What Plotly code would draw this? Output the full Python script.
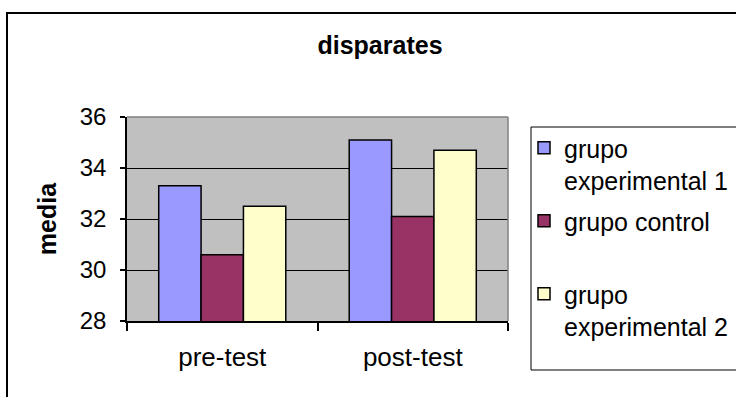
import plotly.graph_objects as go

# ---- data ----
categories = ["pre-test", "post-test"]
series_names = ["grupo<br>experimental 1", "grupo control<br>\u00a0", "grupo<br>experimental 2"]
exp1_values = [33.3, 35.1]
control_values = [30.6, 32.1]
exp2_values = [32.5, 34.7]
y_tick_values = [28, 30, 32, 34, 36]
chart_title = "disparates"
y_title = "media"

series_values = [exp1_values, control_values, exp2_values]
series_colors = ["#9999FF", "#993366", "#FFFFCC"]

# ---- geometry (pixels) ----
W, H = 736, 397
L, R, T, B = 127, 508, 117, 321


def px(x):
    return (x - L) / (R - L)


def py(y):
    return (B - y) / (B - T)


FONT = "Liberation Sans, Arial, sans-serif"

fig = go.Figure()
for i, (name, vals, col) in enumerate(zip(series_names, series_values, series_colors)):
    fig.add_trace(go.Bar(
        x=categories, y=vals, name=name,
        marker=dict(color=col, line=dict(color="black", width=1.5)),
        legendgroup=str(i),
    ))

shapes = [
    # outer chart border
    dict(type="rect", xref="paper", yref="paper", x0=px(7), x1=px(760), y0=py(420), y1=py(13),
         line=dict(color="black", width=2), layer="below"),
    # legend box
    dict(type="rect", xref="paper", yref="paper", x0=px(531), x1=px(760), y0=py(370), y1=py(127),
         line=dict(color="black", width=1)),
    # plot area top / right border (gray)
    dict(type="line", xref="paper", yref="paper", x0=0, x1=1, y0=1, y1=1,
         line=dict(color="#808080", width=1.5)),
    dict(type="line", xref="paper", yref="paper", x0=1, x1=1, y0=0, y1=1,
         line=dict(color="#808080", width=1.5)),
]

fig.update_layout(
    width=W, height=H,
    margin=dict(l=L, r=W - R, t=T, b=H - B, pad=0, autoexpand=False),
    paper_bgcolor="white",
    plot_bgcolor="#C0C0C0",
    font=dict(family=FONT, color="black", size=25),
    barmode="group",
    bargap=0.333,
    bargroupgap=0,
    title=dict(text="<b>%s</b>" % chart_title, x=380 / W, xanchor="center",
               y=1 - 45 / H, yanchor="middle", yref="container",
               font=dict(size=25, family=FONT, color="black")),
    xaxis=dict(
        showline=True, linecolor="black", linewidth=1.5,
        ticks="outside", tickson="boundaries", ticklen=8, tickcolor="black", tickwidth=1.5,
        tickfont=dict(size=26), showgrid=False, ticklabelstandoff=12,
    ),
    yaxis=dict(
        range=[28, 36], tickvals=y_tick_values,
        showline=True, linecolor="black", linewidth=1.5,
        ticks="outside", ticklen=5, tickcolor="black", tickwidth=1.5,
        showgrid=True, gridcolor="black", gridwidth=1,
        tickfont=dict(size=24), ticklabelstandoff=9,
        title=dict(text="<b>%s</b>" % y_title, font=dict(size=25), standoff=16),
        zeroline=False,
    ),
    legend=dict(
        xref="container", yref="container",
        x=524 / W, xanchor="left", y=1 - 125 / H, yanchor="top",
        bgcolor="rgba(0,0,0,0)", borderwidth=0,
        font=dict(size=25), valign="top", tracegroupgap=5,
        itemwidth=30, maxheight=320,
    ),
    shapes=shapes,
)

fig.write_html("out.html", config={"displayModeBar": False},
               post_script="document.body.style.margin='0';")
